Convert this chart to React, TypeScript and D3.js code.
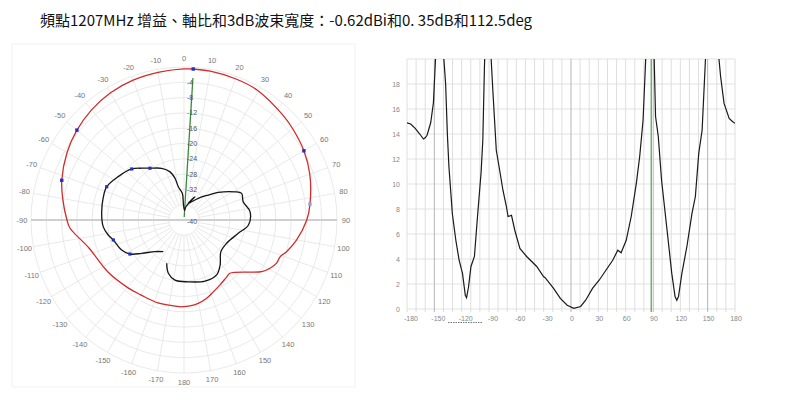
import React from "react";
import * as d3 from "d3";

const TITLE = "頻點1207MHz 增益、軸比和3dB波束寬度：-0.62dBi和0. 35dB和112.5deg";

// Polar chart: gain (red) in dB versus angle (deg)
const gainAngles = [-178, -162.6, -150, -140.5, -124.4, -106.4, -94, -90, -80, -72, -60, -50, -40, -30, -20, -9, 0, 3.5, 10, 20, 29.3, 43.3, 50, 60, 70, 82.8, 90, 100, 107, 111, 115, 119.3, 123.6, 139.2, 143, 151, 157.8, 163.8, 170.3, 176, 182];
const gainValues = [-17.3, -17.3, -17.4, -17.0, -15.9, -14.1, -10.1, -9.4, -7.8, -6.4, -4.7, -3.45, -2.4, -1.6, -1.1, -0.8, -0.5, -0.45, -0.5, -0.7, -1.0, -2.3, -2.9, -3.8, -5.0, -6.8, -7.9, -10.1, -11.9, -13.1, -13.3, -14.2, -15.6, -21.6, -21.4, -20.6, -19.7, -18.7, -17.9, -17.5, -17.3];

// Polar chart: second trace (black) in dB, in drawing order
const crossAngles = [-158.2, -163.6, -171.5, 176, 161, 149.3, 141.3, 130.6, 118.6, 103.8, 94.4, 82.8, 72.8, 65.2, 61, 51.1, 44.2, 33.4, 22.8, 14, 25, 8, 3, -2, -3.6, -9.7, -12.2, -16.2, -23.3, -33.3, -39.3, -45.7, -56.6, -66.7, -74.9, -85.3, -94.7, -101.2, -105.8, -115.7, -122.2, -128.2, -137.5, -146.9];
const crossValues = [-27.8, -25.5, -24.1, -23.8, -23.1, -23.3, -24.9, -27.3, -27.3, -25.4, -23.1, -22.6, -23.8, -23.4, -24.8, -28.5, -30.9, -33.2, -34.8, -35.5, -33.3, -36.5, -37.5, -36.0, -33.0, -31.2, -28.8, -26.9, -25.3, -23.8, -22.5, -20.9, -19.4, -18.0, -18.1, -18.4, -18.8, -19.8, -20.8, -21.9, -23.3, -25.9, -28.8, -30.1];

const gainMarkAngles = [3.5, -50, -72, 60, 82.8];
const gainMarkValues = [-0.45, -3.45, -6.4, -3.8, -6.8];
const crossMarkAngles = [-33.3, -45.7, -66.7, -105.8, -122.2];
const crossMarkValues = [-23.8, -20.9, -18.0, -20.8, -23.3];
const peakAngle = 3.6;

const ringValues = [-36, -32, -28, -24, -20, -16, -12, -8, -4, 0];
const radialLabels = [-4, -8, -12, -16, -20, -24, -28, -32];
const angleTicks = d3.range(-170, 181, 10);

// Cartesian chart: axial ratio (dB) versus angle (deg)
const arAngles = [-180, -176, -171, -166, -162, -160, -158, -154, -151, -148.5, -145, -140, -137.6, -135.7, -134, -130.2, -126.4, -122.8, -119.1, -116, -114.6, -112.4, -109.8, -106, -102.4, -98.7, -96.8, -95, -92, -88, -85.8, -82, -78.3, -74.7, -70.9, -69.1, -65.3, -61.7, -56.1, -48.7, -37.6, -30.2, -28.4, -19.1, -11.7, -4.2, 3.1, 10.6, 16.1, 23.6, 30.9, 38.3, 45.8, 51.3, 55, 60.6, 66.1, 71.7, 75.4, 79.1, 82, 86, 91.3, 92.8, 95.8, 99.4, 105, 110.6, 114.2, 116.1, 118, 121.7, 127.2, 132.8, 136.5, 140.2, 143.9, 147.6, 155, 162.4, 164.2, 168, 173.6, 177.2, 180];
const arValues = [14.9, 14.8, 14.45, 14.0, 13.6, 13.7, 13.9, 14.9, 16.5, 20.3, 26, 20.5, 18.0, 14.0, 11.4, 7.6, 5.5, 3.9, 2.85, 1.1, 0.9, 1.8, 3.4, 4.2, 7.6, 10.9, 13.5, 19.4, 26, 20.5, 17.5, 12.7, 11.1, 9.5, 8.2, 7.4, 7.5, 6.3, 4.85, 4.2, 3.4, 2.6, 2.5, 1.65, 0.85, 0.3, 0.05, 0.2, 0.7, 1.65, 2.3, 3.1, 3.9, 4.7, 4.5, 5.5, 7.4, 10.05, 12.2, 15.1, 20, 28, 20, 15.4, 13.8, 10.3, 6.6, 2.85, 1.0, 0.7, 1.0, 2.85, 5.0, 7.65, 9.0, 12.45, 14.3, 20, 28, 20, 18.6, 16.45, 15.25, 15.0, 14.85];
const arXTicks = [-180, -150, -120, -90, -60, -30, 0, 30, 60, 90, 120, 150, 180];
const arYTicks = [0, 2, 4, 6, 8, 10, 12, 14, 16, 18];
const markerGreen = 88;
const markerPink = 90.5;

const rad = (d: number) => (d * Math.PI) / 180;
const smallFont = "'Liberation Sans', Arial, sans-serif";

export default function App() {
  const cx = 184, cy = 220, R = 153;
  const r = d3.scaleLinear().domain([-40, 0]).range([0, R]);
  const px = (a: number, g: number) => cx + r(g) * Math.sin(rad(a));
  const py = (a: number, g: number) => cy - r(g) * Math.cos(rad(a));
  const radial = d3
    .lineRadial<[number, number]>()
    .angle((d) => rad(d[0]))
    .radius((d) => r(d[1]));
  const radialSmooth = d3
    .lineRadial<[number, number]>()
    .angle((d) => rad(d[0]))
    .radius((d) => r(d[1]))
    .curve(d3.curveCatmullRom.alpha(0.5));

  const gainPts: [number, number][] = gainAngles.map((a, i) => [a, gainValues[i]]);
  const crossPts: [number, number][] = crossAngles.map((a, i) => [a, crossValues[i]]);

  // cartesian
  const x = d3.scaleLinear().domain([-180, 180]).range([407, 735]);
  const y = d3.scaleLinear().domain([0, 20]).range([309, 59]);
  const arLine = d3
    .line<[number, number]>()
    .x((d) => x(d[0]))
    .y((d) => y(d[1]));
  const arPts: [number, number][] = arAngles.map((a, i) => [a, arValues[i]]);

  return (
    <svg
      width={800}
      height={405}
      style={{ position: "absolute", left: 0, top: 0, background: "#fff" }}
    >
      <rect x={0} y={0} width={800} height={405} fill="#fff" />
      <text
        x={40}
        y={26}
        fontFamily="'Noto Sans CJK TC', 'Noto Sans CJK SC', sans-serif"
        fontSize={15}
        fill="#111"
      >
        {TITLE}
      </text>

      {/* ---------- polar chart ---------- */}
      <rect x={12} y={44} width={343} height={343} fill="none" stroke="#f2f2f2" />
      <g transform={`translate(${cx},${cy})`}>
        {ringValues.map((v) => (
          <circle key={v} r={r(v)} fill="none" stroke="#e3e3e3" strokeWidth={0.8} />
        ))}
        {d3.range(0, 360, 10).map((a) => (
          <line
            key={a}
            x1={r(-36) * Math.sin(rad(a))}
            y1={-r(-36) * Math.cos(rad(a))}
            x2={R * Math.sin(rad(a))}
            y2={-R * Math.cos(rad(a))}
            stroke="#e3e3e3"
            strokeWidth={0.8}
          />
        ))}
        <line x1={-R} y1={0} x2={R} y2={0} stroke="#cfcfcf" strokeWidth={2} />
        {angleTicks.map((a) => (
          <text
            key={a}
            x={162 * Math.sin(rad(a))}
            y={-162 * Math.cos(rad(a))}
            textAnchor="middle"
            dominantBaseline="central"
            fontFamily={smallFont}
            fontSize={7.5}
            fill="#777"
          >
            {a}
          </text>
        ))}
        <path
          d={radial([[peakAngle, -39.2], [peakAngle, -2.8]]) ?? ""}
          stroke="#3a8a3a"
          strokeWidth={1.3}
          fill="none"
        />
        {radialLabels.map((v) => (
          <text
            key={v}
            x={3}
            y={-r(v)}
            dominantBaseline="central"
            fontFamily={smallFont}
            fontSize={7}
            fill="#555"
          >
            {v}
          </text>
        ))}
        <text x={3} y={1} dominantBaseline="central" fontFamily={smallFont} fontSize={7} fill="#555">
          -40
        </text>
        <path d={radialSmooth(gainPts) ?? ""} fill="none" stroke="#d42a2a" strokeWidth={1.3} />
        <path d={radialSmooth(crossPts) ?? ""} fill="none" stroke="#151515" strokeWidth={1.3} />
      </g>
      {gainMarkAngles.map((a, i) => (
        <rect
          key={"g" + i}
          x={px(a, gainMarkValues[i]) - 1.7}
          y={py(a, gainMarkValues[i]) - 1.7}
          width={3.4}
          height={3.4}
          fill={i === 4 ? "#8fa0e0" : "#2030c0"}
        />
      ))}
      {crossMarkAngles.map((a, i) => (
        <rect
          key={"c" + i}
          x={px(a, crossMarkValues[i]) - 1.6}
          y={py(a, crossMarkValues[i]) - 1.6}
          width={3.2}
          height={3.2}
          fill="#2030c0"
        />
      ))}

      {/* ---------- cartesian chart ---------- */}
      <defs>
        <clipPath id="arClip">
          <rect x={x(-180)} y={y(20)} width={x(180) - x(-180)} height={y(0) - y(20) + 2} />
        </clipPath>
      </defs>
      {arYTicks.concat([20]).map((v) => (
        <line key={v} x1={x(-180)} x2={x(180)} y1={y(v)} y2={y(v)} stroke="#e2e2e2" strokeWidth={1} />
      ))}
      {d3.range(-180, 181, 10).map((a) => (
        <line
          key={a}
          x1={x(a)}
          x2={x(a)}
          y1={y(20)}
          y2={y(0) + 3}
          stroke={a === -150 || a === 0 || a === 150 ? "#b5b5b5" : "#dedede"}
          strokeWidth={1}
        />
      ))}
      <line x1={x(markerGreen)} x2={x(markerGreen)} y1={y(20)} y2={y(0) + 3} stroke="#2f8a2f" strokeWidth={1} />
      <line x1={x(markerPink)} x2={x(markerPink)} y1={y(20)} y2={y(0) + 3} stroke="#f0b8b8" strokeWidth={1} />
      <path d={arLine(arPts) ?? ""} fill="none" stroke="#1a1a1a" strokeWidth={1.2} clipPath="url(#arClip)" />
      {arYTicks.map((v) => (
        <text
          key={v}
          x={400}
          y={y(v)}
          textAnchor="end"
          dominantBaseline="central"
          fontFamily={smallFont}
          fontSize={7}
          fill="#888"
        >
          {v}
        </text>
      ))}
      {arXTicks.map((v) => (
        <text
          key={v}
          x={x(v) + (v < 0 ? 4 : 1)}
          y={318}
          textAnchor="middle"
          dominantBaseline="central"
          fontFamily={smallFont}
          fontSize={7}
          fill="#888"
        >
          {v}
        </text>
      ))}
      <line x1={448} x2={483} y1={322.5} y2={322.5} stroke="#777" strokeWidth={1} strokeDasharray="1.5,1" />
    </svg>
  );
}
